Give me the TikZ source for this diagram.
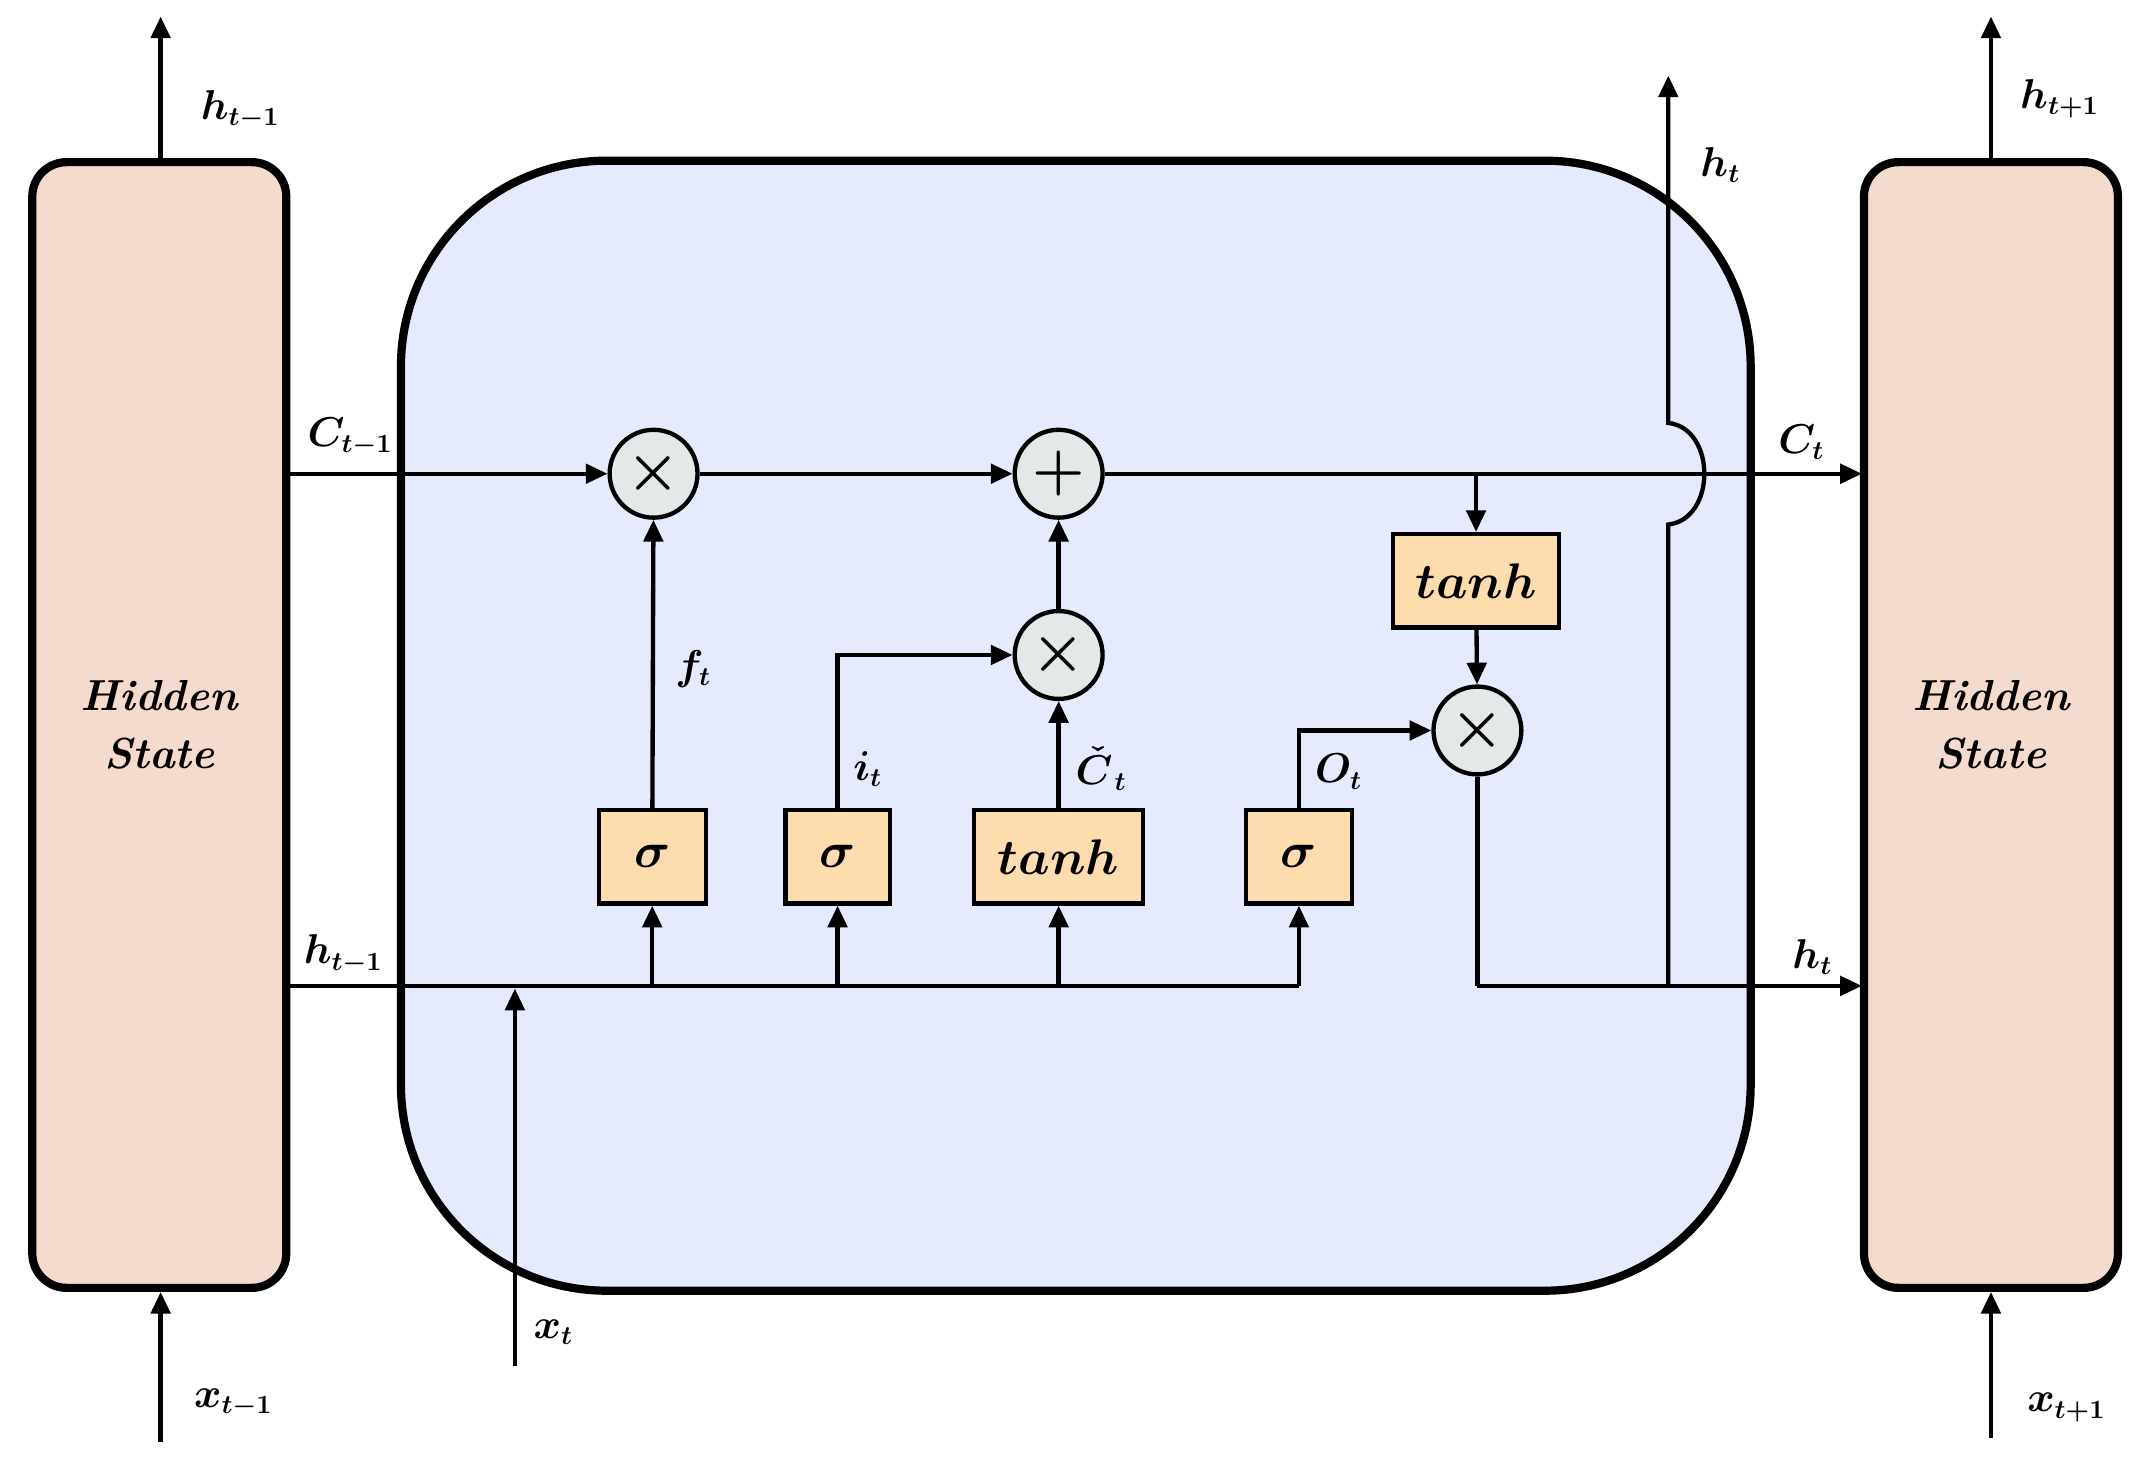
\documentclass[tikz,border=0pt]{standalone}
\usepackage{amsmath,bm}
\usetikzlibrary{arrows.meta}
\definecolor{pinkf}{HTML}{F5DACE}
\definecolor{bluef}{HTML}{E5EAFC}
\definecolor{orf}{HTML}{FDDCAE}
\definecolor{grf}{HTML}{E4E8E9}
\begin{document}
\begin{tikzpicture}[x=0.02cm,y=-0.02cm,
  ln/.style={line width=1.8pt},
  ar/.style={ln,-{Triangle[length=9pt,width=8pt]}},
  gate/.style={draw,line width=1.8pt,fill=orf,minimum height=1.36cm,inner sep=0pt,font=\fontsize{22}{24}\selectfont},
  op/.style={draw,circle,line width=1.8pt,fill=grf,minimum size=1.28cm,inner sep=0pt,font=\fontsize{26}{28}\selectfont},
  lab/.style={font=\fontsize{16}{18}\selectfont},
  hs/.style={draw,line width=3.4pt,fill=pinkf,rounded corners=0.5cm,minimum width=3.7cm,minimum height=16.4cm,align=center,font=\fontsize{18}{24}\selectfont\itshape\bfseries}]
\useasboundingbox (0,0) rectangle (1560,1066);
\draw[line width=3.4pt,fill=bluef,rounded corners=3cm] (292,117) rectangle (1275,940);
\node[hs] (L) at (116,528) {Hidden\\State};
\node[hs] (R) at (1450,528) {Hidden\\State};
\coordinate (Lt) at (117,12); \coordinate (Lb) at (117,1050);
\coordinate (Rt) at (1450,12); \coordinate (Rb) at (1450,1047);
\draw[ar] (L.north-|Lt) -- (Lt);
\draw[ar] (Lb) -- (L.south-|Lb);
\draw[ar] (R.north-|Rt) -- (Rt);
\draw[ar] (Rb) -- (R.south-|Rb);
\node[lab] at (175,80) {$\bm{h_{t-1}}$};
\node[lab] at (170,1022) {$\bm{x_{t-1}}$};
\node[lab] at (1500,72) {$\bm{h_{t+1}}$};
\node[lab] at (1505,1025) {$\bm{x_{t+1}}$};
% ops
\node[op] (m1) at (476,345) {$\bm\times$};
\node[op] (p) at (771,345) {$\bm+$};
\node[op] (m2) at (771,477) {$\bm\times$};
\node[op] (m3) at (1076,532) {$\bm\times$};
\node[gate,minimum width=1.56cm] (s1) at (475,624) {$\bm\sigma$};
\node[gate,minimum width=1.52cm] (s2) at (610,624) {$\bm\sigma$};
\node[gate,minimum width=2.46cm] (t1) at (771,624) {$\bm{tanh}$};
\node[gate,minimum width=1.54cm] (s4) at (946,624) {$\bm\sigma$};
\node[gate,minimum width=2.42cm] (t2) at (1075,423) {$\bm{tanh}$};
% C line
\coordinate (cl) at (210,345);
\coordinate (cr) at (1356,345);
\draw[ar] (cl) -- (m1);
\draw[ar] (m1) -- (p);
\draw[ar] (p) -- (cr);
\coordinate (ctap) at (1075,345);
\draw[ar] (ctap) -- (t2);
\draw[ar] (t2) -- (m3);
% h line
\coordinate (hl) at (210,718);
\coordinate (hc) at (946,718);
\draw[ln] (hl) -- (hc);
\draw[ar] (hc) -- (s4);
\foreach \n/\x in {s1/475,s2/610,t1/771}{\coordinate (h\n) at (\x,718); \draw[ar] (h\n) -- (\n);}
\coordinate (xb) at (375,995); \coordinate (xt) at (375,720);
\draw[ar] (xb) -- (xt);
\node[lab] at (403,970) {$\bm{x_t}$};
\draw[ar] (s1) -- (m1);
\draw[ar] (s2.north) |- (m2);
\draw[ar] (t1) -- (m2);
\draw[ar] (m2) -- (p);
\draw[ar] (s4.north) |- (m3);
\coordinate (hr) at (1356,718);
\coordinate (hm) at (1076,718);
\draw[ln] (m3) -- (hm);
\draw[ar] (hm) -- (hr);
\coordinate (hu0) at (1215,718); \coordinate (hu1) at (1215,55);
\draw[ar] (hu0) -- (1215,382) .. controls (1250,378) and (1250,312) .. (1215,308) -- (hu1);
% labels
\node[lab] at (255,318) {$\bm{C_{t-1}}$};
\node[lab] at (1312,322) {$\bm{C_t}$};
\node[lab] at (250,695) {$\bm{h_{t-1}}$};
\node[lab] at (1320,697) {$\bm{h_t}$};
\node[lab] at (1253,120) {$\bm{h_t}$};
\node[lab] at (505,487) {$\bm{f_t}$};
\node[lab] at (632,560) {$\bm{i_t}$};
\node[lab,inner sep=1pt] at (802,560) {$\bm{\check{C}_{\,t}}$};
\node[lab] at (975,562) {$\bm{O_t}$};
\end{tikzpicture}
\end{document}
